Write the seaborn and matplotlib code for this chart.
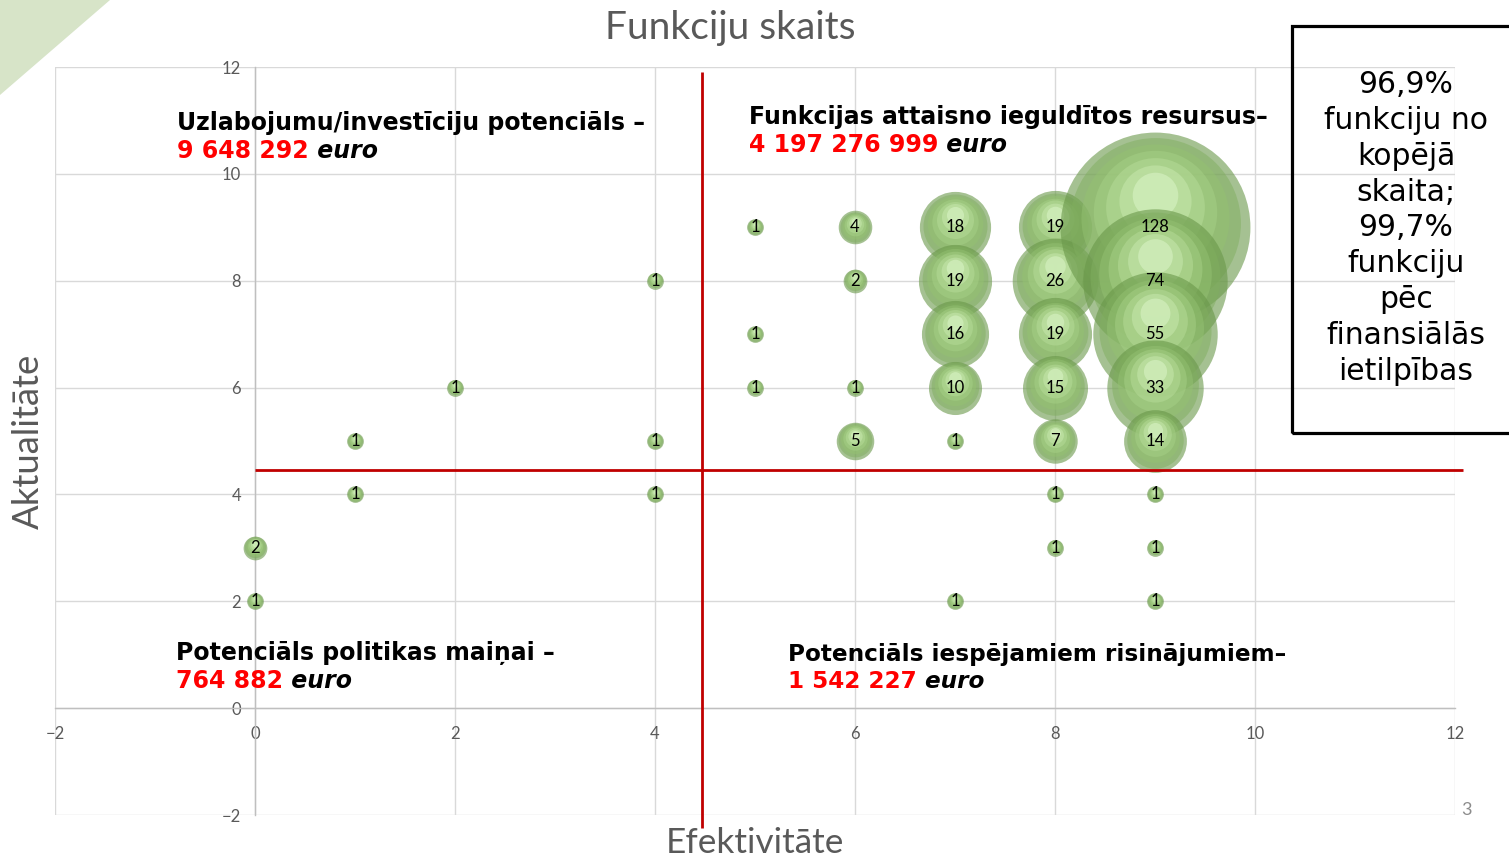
import matplotlib
matplotlib.use('Agg')
import matplotlib.pyplot as plt
from matplotlib.patches import Rectangle, Polygon
import numpy as np
import pandas as pd
import seaborn as sns

sns.set_style('white')
plt.rcParams['font.family'] = ['Lato', 'DejaVu Sans']

# bubble data: efektivitate (x), aktualitate (y), funkciju skaits (size)
efektivitate = [0, 0, 1, 1, 2, 4, 4, 4,
                5, 5, 5,
                6, 6, 6, 6,
                7, 7, 7, 7, 7, 7,
                8, 8, 8, 8, 8, 8, 8,
                9, 9, 9, 9, 9, 9, 9, 9]
aktualitate = [3, 2, 5, 4, 6, 8, 5, 4,
               9, 7, 6,
               9, 8, 6, 5,
               9, 8, 7, 6, 5, 2,
               9, 8, 7, 6, 5, 4, 3,
               9, 8, 7, 6, 5, 4, 3, 2]
skaits = [2, 1, 1, 1, 1, 1, 1, 1,
          1, 1, 1,
          4, 2, 1, 5,
          18, 19, 16, 10, 1, 1,
          19, 26, 19, 15, 7, 1, 1,
          128, 74, 55, 33, 14, 1, 1, 1]

ticks = [-2, 0, 2, 4, 6, 8, 10, 12]
threshold_x = 4.47
threshold_y = 4.45

quadrants = [
    ('Uzlabojumu/investīciju potenciāls –', '9 648 292', 177, 123),
    ('Funkcijas attaisno ieguldītos resursus–', '4 197 276 999', 749, 117),
    ('Potenciāls politikas maiņai –', '764 882', 176, 653),
    ('Potenciāls iespējamiem risinājumiem–', '1 542 227', 788, 654),
]
box_text = '96,9%\nfunkciju no\nkopējā\nskaita;\n99,7%\nfunkciju\npēc\nfinansiālās\nietilpības'

df = pd.DataFrame({'x': efektivitate, 'y': aktualitate, 'n': skaits})

W, H = 1509, 859
fig = plt.figure(figsize=(W / 100, H / 100), dpi=100)
ax = fig.add_axes([55 / W, 1 - 815 / H, 1400 / W, 748 / H])

# glossy bubbles: each bubble gets layers from dark rim to light highlight
k = 146  # points^2 per unit of count
layers = [(1.0, '#6a984a', 0.6), (0.9, '#80ae5f', 0.5), (0.78, '#94c172', 0.5),
          (0.65, '#a6d086', 0.5), (0.52, '#b7dc99', 0.5), (0.38, '#c9e9b0', 0.5),
          (0.24, '#dbf5c8', 0.55)]
z = 3
for i in range(len(df)):
    row = df.iloc[[i]]
    radius = 0.157 * np.sqrt(row['n'])  # bubble radius in y data units
    for scale, col, a in layers:
        d = row.assign(y=row['y'] + radius * (1 - scale) * 0.45)
        sns.scatterplot(data=d, x='x', y='y', size='n', sizes=(k * scale ** 2, k * 128 * scale ** 2),
                        size_norm=(1, 128), color=col, alpha=a, linewidth=0, legend=False, ax=ax, zorder=z)
        z += 0.001

for x, y, n in zip(efektivitate, aktualitate, skaits):
    ax.text(x, y, str(n), ha='center', va='center', fontsize=12, color='black', zorder=5)

ax.set_xlim(-2, 12)
ax.set_ylim(-2, 12)
ax.set_xticks(ticks)
ax.set_yticks(ticks)
ax.grid(True, color='#d9d9d9', linewidth=1)
ax.set_axisbelow(True)
for s in ['top', 'right']:
    ax.spines[s].set_visible(False)
ax.spines['left'].set_position(('data', 0))
ax.spines['bottom'].set_position(('data', 0))
for s in ['left', 'bottom']:
    ax.spines[s].set_color('#bfbfbf')
    ax.spines[s].set_linewidth(1)
ax.tick_params(length=0, labelsize=12, labelcolor='#595959')
ax.tick_params(axis='x', pad=13)
ax.tick_params(axis='y', pad=10)
ax.set_xlabel('')
ax.set_ylabel('')

# red quadrant lines
ax.hlines(threshold_y, 0, 12.08, color='#c00000', linewidth=2, clip_on=False, zorder=4.5)
ax.vlines(threshold_x, -2.25, 11.9, color='#c00000', linewidth=2, clip_on=False, zorder=4.5)

# titles
fig.text(730 / W, 1 - 28 / H, 'Funkciju skaits', ha='center', va='center', fontsize=28, color='#595959')
fig.text(755 / W, 1 - 843 / H, 'Efektivitāte', ha='center', va='center', fontsize=25.3, color='#595959')
fig.text(28 / W, 1 - 441 / H, 'Aktualitāte', ha='center', va='center', fontsize=26.3, color='#595959', rotation=90)
fig.text(1466 / W, 1 - 810 / H, '3', ha='center', va='center', fontsize=13, color='#8c8c8c')

# quadrant texts
for i, (line1, num, px, py) in enumerate(quadrants):
    kw = dict(family='DejaVu Sans', weight='bold', fontsize=16.7 if i == 3 else 17)
    fig.text(px / W, 1 - py / H, line1, ha='left', va='center', color='black', **kw)
    t = fig.text(px / W, 1 - (py + 28) / H, num, ha='left', va='center', color='#ff0000', **kw)
    ax.annotate(' euro', xy=(1, 0), xycoords=t, ha='left', va='bottom', style='italic', color='black', **kw)

# side box
fig.patches.append(Rectangle((1292 / W, 1 - 433 / H), 240 / W, 407 / H, transform=fig.transFigure,
                             fill=False, edgecolor='black', linewidth=2.3))
fig.text(1406 / W, 1 - 228 / H, box_text, ha='center', va='center', fontsize=21.5, color='black',
         family='DejaVu Sans', linespacing=1.3)

# decorative corner
fig.patches.append(Polygon([(0, 1), (110 / W, 1), (0, 1 - 95 / H)], closed=True,
                           transform=fig.transFigure, facecolor='#d7e4c8', edgecolor='none'))

fig.savefig('out.png', dpi=100)
